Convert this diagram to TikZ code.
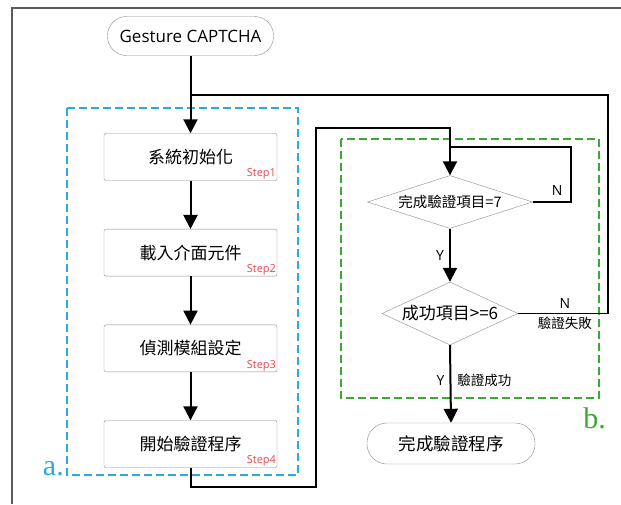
\documentclass[tikz,border=0pt]{standalone}
\usepackage{fontspec}
\setmainfont{Open Sans}
\newfontfamily\cjk{Noto Sans CJK TC}
\newfontfamily\tagfont{Liberation Serif}
\usetikzlibrary{arrows.meta,shapes.geometric}
\definecolor{boxgray}{HTML}{8C8C8C}
\definecolor{framegray}{HTML}{5A5A5A}
\definecolor{partblue}{HTML}{29ABE2}
\definecolor{partgreen}{HTML}{3AAA35}
\definecolor{stepred}{HTML}{E8474F}
\begin{document}
\begin{tikzpicture}
[x=1pt,y=-1pt,
 every node/.style={inner sep=0pt},
 terminal/.style={draw=boxgray, fill=white, rounded corners=19pt, minimum height=39pt},
 stepbox/.style={draw=boxgray, fill=white, rounded corners=2pt, minimum width=173pt, minimum height=47pt,
   font=\cjk\fontsize{17}{20}\selectfont},
 decision/.style={diamond, draw=boxgray, fill=white},
 steplabel/.style={anchor=south east, inner sep=1pt, text=stepred, font=\fontsize{11}{12}\selectfont},
 yn/.style={font=\fontsize{14}{16}\selectfont},
 note/.style={font=\cjk\fontsize{13.5}{16}\selectfont},
 tag/.style={font=\tagfont\fontsize{30}{30}\selectfont},
 flow/.style={line width=2pt, -{Triangle[width=14pt,length=14pt]}},
 wire/.style={line width=1.8pt}]
\useasboundingbox (0,0) rectangle (621,504);
\def \gap {95.67} % distance between the step boxes

% frame and the two parts
\draw[framegray, line width=1.5pt] (12,504) -- (12,8) -- (621,8);
\draw[partblue, line width=2pt, dash pattern=on 8pt off 4pt] (67,108) rectangle (298,475);
\draw[partgreen, line width=2pt, dash pattern=on 8pt off 4pt] (341,139) rectangle (599,398);
\node[tag, text=partblue, anchor=base east] (a) at (64,475) {a.};
\node[tag, text=partgreen, anchor=base east] (b) at (606,428) {b.};

\node[terminal, minimum width=166pt, font=\fontsize{17}{20}\selectfont] (start) at (190.5,36) {Gesture CAPTCHA};
\foreach \t [count=\s] in {系統初始化,載入介面元件,偵測模組設定,開始驗證程序}
{
  \node[stepbox] (s\s) at (190.5,{157+\gap*(\s-1)}) {\t};
  \node[steplabel] at (s\s.south east) {Step\s};
}
\node[decision, aspect=3.1, minimum width=165pt, minimum height=53pt,
  font=\cjk\fontsize{14.5}{17}\selectfont] (d1) at (450,202) {完成驗證項目=7};
\node[decision, aspect=2.16, minimum width=136pt, minimum height=63pt,
  font=\cjk\fontsize{17}{20}\selectfont] (d2) at (450,313.5) {成功項目>=6};
\node[terminal, minimum width=168pt, rounded corners=20pt, minimum height=41pt,
  font=\cjk\fontsize{17.5}{20}\selectfont] (done) at (451,443.5) {完成驗證程序};

\coordinate (back) at (608,95);
\coordinate (retry) at (571,147);
\coordinate (low) at (316,487);
\coordinate (high) at (316,128);

\draw[flow] (start) -- (s1);
\foreach \s [evaluate=\s as \n using int(\s+1)] in {1,2,3}
  \draw[flow] (s\s) -- (s\n);
\draw[flow] (s4.south) |- (low) -- (high) -| (d1.north);
\draw[wire] (d1.east) -| node[yn, pos=0.32, above=6pt] {N} (retry) -- (retry -| d1.north);
\draw[flow] (d1.south) -- node[yn, left=5pt] {Y} (d2.north);
\draw[wire] (d2.east) -| node[yn, pos=0.26, above=4pt] {N} node[note, pos=0.26, below=3pt] {驗證失敗}
  (back) -- (back -| start.south);
\draw[flow] (d2.south) -- node[yn, pos=0.45, left=5pt] {Y} node[note, pos=0.45, right=6pt] {驗證成功} (done.north);
\end{tikzpicture}
\end{document}
